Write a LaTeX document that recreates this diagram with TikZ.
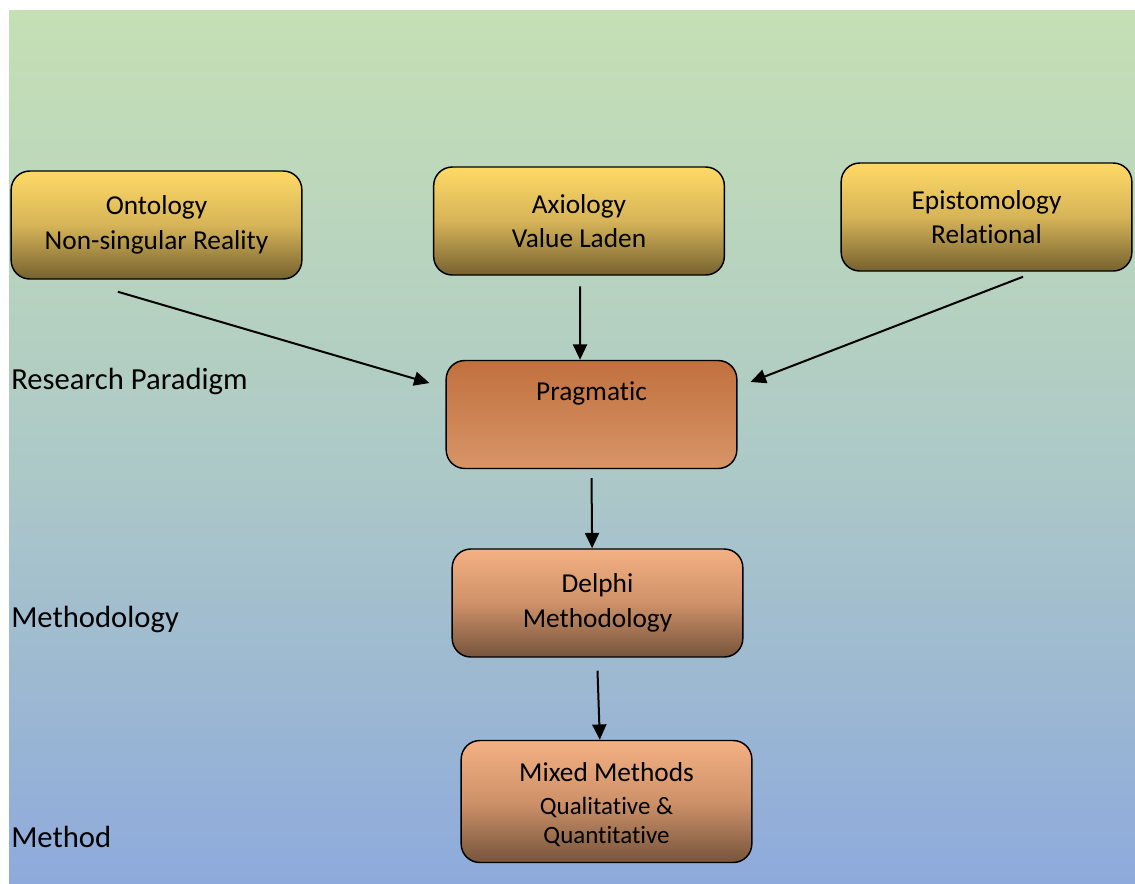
\documentclass[tikz,border=0pt]{standalone}
\usepackage{fontspec}
\setmainfont{Carlito}[Ligatures=NoCommon]
\usepackage{tikz}
\usetikzlibrary{arrows.meta}
\usetikzlibrary{positioning}
\definecolor{bgtop}{RGB}{197,224,180}
\definecolor{bgmid}{RGB}{174,202,198}
\definecolor{bgbot}{RGB}{142,170,220}
\definecolor{goldtop}{RGB}{255,217,102}
\definecolor{goldmid}{RGB}{214,180,88}
\definecolor{goldbot}{RGB}{118,98,48}
\definecolor{rusttop}{RGB}{193,112,62}
\definecolor{rustbot}{RGB}{215,149,104}
\definecolor{peachtop}{RGB}{244,177,131}
\definecolor{peachmid}{RGB}{206,145,105}
\definecolor{peachbot}{RGB}{118,84,60}
\newcommand{\subsize}{\fontsize{18.7}{22}\selectfont}
\tikzset{box/.style = {draw=black, line width=1.1pt, rounded corners=14pt,
                       minimum width=218pt, minimum height=81pt,
                       align=center, inner sep=0pt,
                       font=\fontsize{20.5}{26}\selectfont}}
\tikzset{goldbox/.style = {box, top color=goldtop, bottom color=goldbot, middle color=goldmid}}
\tikzset{rustbox/.style = {box, top color=rusttop, bottom color=rustbot}}
\tikzset{peachbox/.style = {box, top color=peachtop, bottom color=peachbot, middle color=peachmid}}
\tikzset{tier/.style = {anchor=west, inner sep=0pt, font=\fontsize{23}{27}\selectfont}}
\tikzset{arr/.style = {line width=1.5pt, -{Triangle[length=11.5pt,width=10.5pt]}}}

\begin{document}
\begin{tikzpicture}[x=0.75pt, y=-0.75pt]
      \useasboundingbox (0,0) rectangle (1135,883);
      \fill [white] (0,0) rectangle (1135,883);
      \shade [top color=bgtop, bottom color=bgbot, middle color=bgmid] (9,10) rectangle (1135,883);

      \node [goldbox] (onto) at (156.5,225) {Ontology\\Non-singular Reality};
      \node [goldbox] (axio) at (579,221) {Axiology\\Value Laden};
      \node [goldbox] (episto) at (986.5,217) {Epistomology\\Relational};
      \node [rustbox] (prag) at (591.5,414.5) {Pragmatic\\[1pt]\strut};
      \node [peachbox] (delphi) at (597.5,603) {Delphi\\Methodology};
      \node [peachbox, minimum height=91.5pt] (mixed) at (606.5,801.5)
        {\rule{0pt}{19pt}Mixed Methods\\[-1pt]\subsize Qualitative \&\\[-4pt]\subsize Quantitative};

      \node [tier] (lparadigm) at (11,381) {Research Paradigm};
      \node [tier] (lmethodology) at (11,619.5) {Methodology};
      \node [tier] (lmethod) at (11,837) {Method};

      \draw [arr] ([xshift=-29pt, yshift=-9pt]onto.south) -- ([xshift=-12pt, yshift=23.6pt]prag.west);
      \draw [arr] ([xshift=0.75pt, yshift=-8pt]axio.south) -- ([xshift=-8.6pt]prag.north);
      \draw [arr] ([xshift=27.4pt, yshift=-3.75pt]episto.south) -- ([xshift=9.75pt, yshift=24.4pt]prag.east);
      \draw [arr] ([yshift=-6.75pt]prag.south) -- ([xshift=-4pt]delphi.north);
      \draw [arr] ([yshift=-9.75pt]delphi.south) -- ([xshift=-5pt]mixed.north);
    \end{tikzpicture}
\end{document}
